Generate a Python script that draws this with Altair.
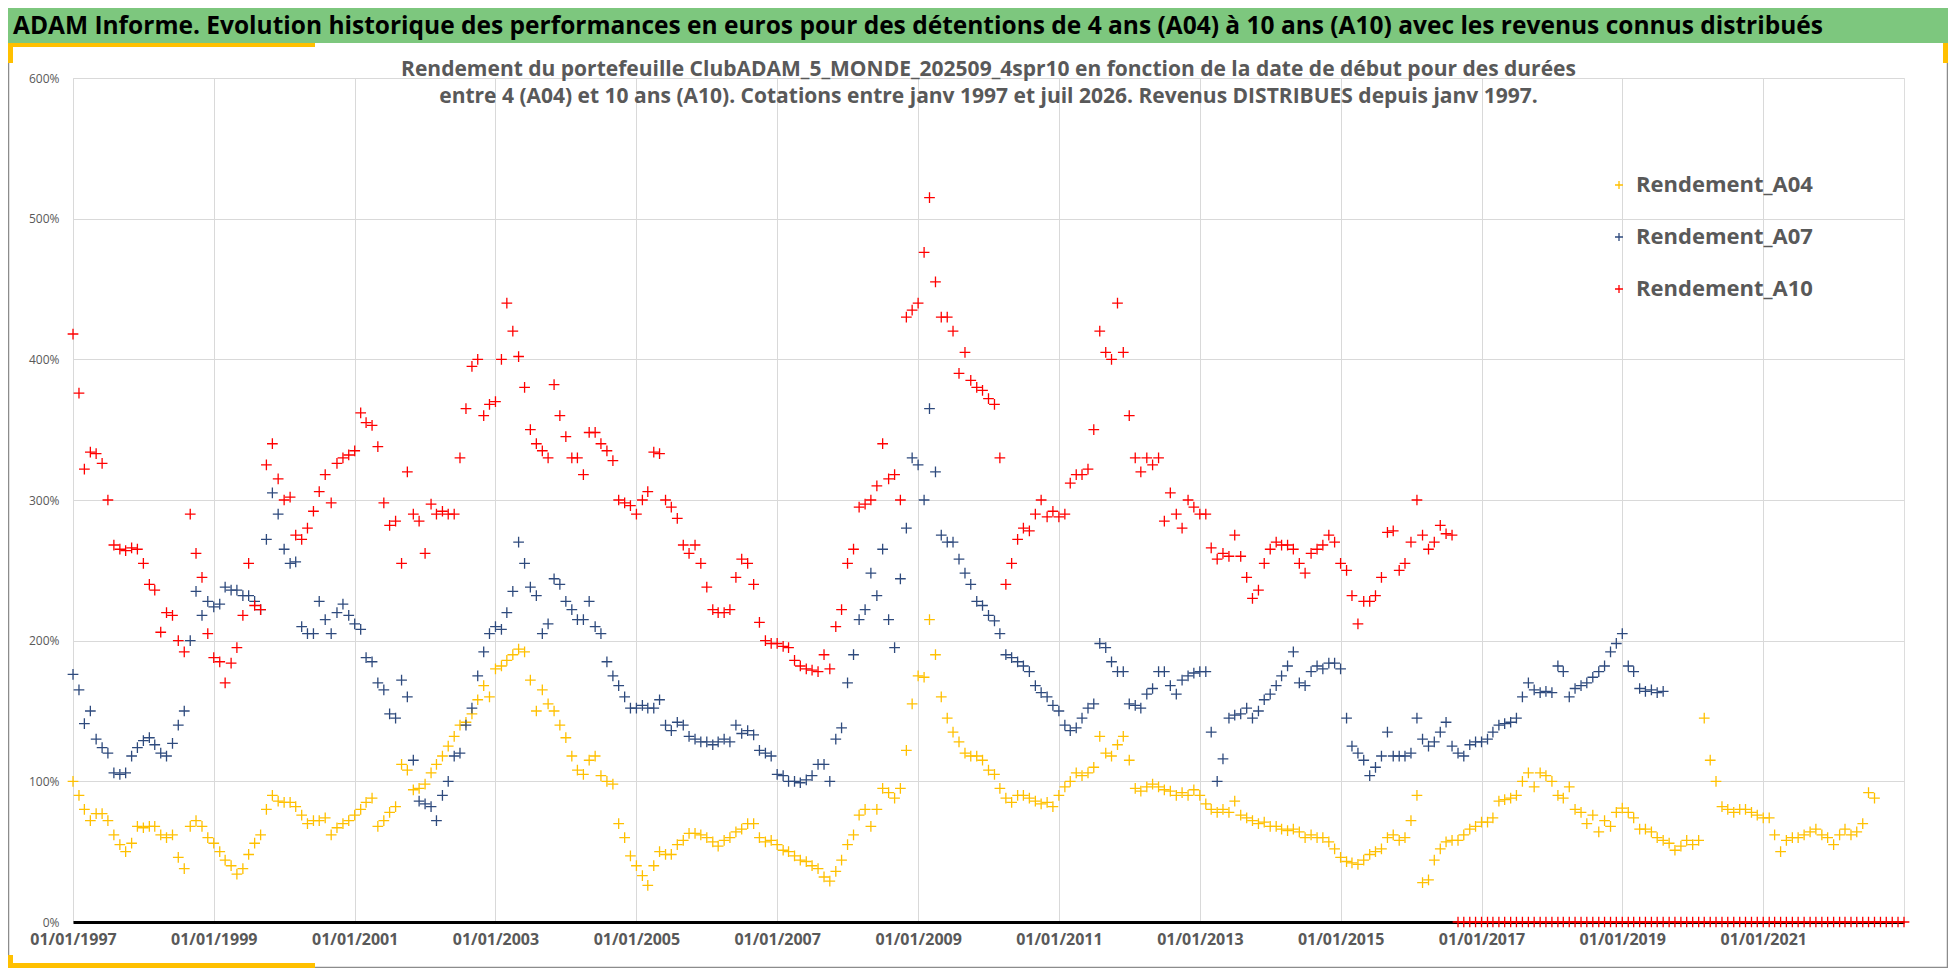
import pandas as pd
import altair as alt

# monthly readings (in %), starting January 1997
a04 = [
    100, 90, 80, 72, 77, 77, 72, 62, 55, 50, 56, 68,      # 1997
    67, 68, 68, 62, 60, 62, 46, 38, 68, 72, 68, 60,       # 1998
    56, 50, 44, 40, 34, 38, 48, 56, 62, 80, 90, 86,       # 1999
    85, 85, 82, 76, 70, 72, 72, 74, 62, 67, 70, 72,       # 2000
    76, 80, 85, 88, 68, 72, 78, 82, 112, 108, 94, 95,     # 2001
    98, 106, 112, 118, 125, 132, 140, 142, 148, 158, 168, 160,  # 2002
    180, 182, 186, 190, 194, 192, 172, 150, 165, 155, 150, 140,  # 2003
    131, 118, 108, 105, 115, 118, 104, 100, 98, 70, 60, 47,     # 2004
    40, 33, 26, 40, 50, 48, 48, 55, 58, 63, 63, 62,       # 2005
    60, 57, 54, 58, 60, 64, 66, 70, 70, 60, 57, 58,       # 2006
    55, 51, 50, 47, 44, 43, 40, 38, 32, 29, 36, 44,       # 2007
    55, 62, 76, 80, 68, 80, 95, 92, 88, 95, 122, 155,     # 2008
    175, 174, 215, 190, 160, 145, 135, 128, 120, 118, 118, 115,  # 2009
    108, 105, 95, 88, 85, 90, 90, 88, 86, 84, 85, 82,     # 2010
    90, 96, 100, 106, 104, 106, 110, 132, 120, 118, 126, 132,   # 2011
    115, 95, 93, 96, 98, 96, 94, 93, 90, 92, 90, 94,      # 2012
    90, 84, 80, 78, 80, 78, 86, 76, 74, 72, 70, 71,       # 2013
    68, 68, 66, 65, 66, 64, 60, 62, 60, 60, 57, 52,       # 2014
    46, 43, 42, 41, 44, 48, 50, 52, 60, 62, 58, 60,       # 2015
    72, 90, 28, 30, 44, 52, 57, 58, 58, 62, 66, 68,       # 2016
    71, 71, 74, 86, 87, 88, 90, 100, 106, 96, 106, 104,   # 2017
    100, 90, 88, 96, 80, 78, 70, 76, 64, 72, 68, 78,      # 2018
    81, 78, 74, 66, 66, 64, 60, 58, 56, 51, 54, 58,       # 2019
    55, 58, 145, 115, 100, 82, 80, 78, 80, 80, 78, 76,    # 2020
    74, 74, 62, 50, 58, 60, 60, 62, 64, 66, 62, 60,       # 2021
    55, 62, 66, 62, 64, 70, 92, 88,                       # 2022
]

a07 = [
    176, 165, 141, 150, 130, 124, 120, 106, 105, 106, 118, 124,  # 1997
    129, 131, 126, 120, 118, 127, 140, 150, 200, 235, 218, 228,  # 1998
    224, 226, 238, 236, 236, 232, 232, 228, 222, 272, 305, 290,  # 1999
    265, 255, 256, 210, 205, 205, 228, 215, 205, 220, 226, 218,  # 2000
    212, 208, 188, 185, 170, 165, 148, 145, 172, 160, 115, 86,   # 2001
    84, 82, 72, 90, 100, 118, 120, 140, 152, 175, 192, 205,      # 2002
    210, 208, 220, 235, 270, 255, 238, 232, 205, 212, 244, 240,  # 2003
    228, 222, 215, 215, 228, 210, 205, 185, 175, 168, 160, 152,  # 2004
    152, 154, 152, 152, 158, 140, 136, 142, 140, 132, 130, 128,  # 2005
    128, 126, 128, 130, 128, 140, 134, 136, 133, 122, 120, 118,  # 2006
    105, 104, 100, 100, 99, 101, 104, 112, 112, 100, 130, 138,   # 2007
    170, 190, 215, 222, 248, 232, 265, 215, 195, 244, 280, 330,  # 2008
    325, 300, 365, 320, 275, 270, 270, 258, 248, 240, 228, 225,  # 2009
    218, 214, 205, 190, 188, 185, 182, 178, 168, 163, 160, 154,  # 2010
    150, 140, 136, 138, 145, 152, 155, 198, 195, 185, 178, 178,  # 2011
    155, 154, 152, 162, 166, 178, 178, 168, 162, 172, 175, 177,  # 2012
    178, 178, 135, 100, 116, 145, 147, 148, 152, 145, 150, 158,  # 2013
    162, 168, 175, 182, 192, 170, 168, 178, 182, 180, 184, 184,  # 2014
    180, 145, 125, 120, 115, 104, 110, 118, 135, 118, 118, 118,  # 2015
    120, 145, 130, 125, 128, 135, 142, 125, 120, 118, 126, 128,  # 2016
    128, 130, 135, 140, 141, 142, 145, 160, 170, 165, 163, 164,  # 2017
    163, 182, 178, 160, 166, 168, 170, 174, 178, 182, 192, 198,  # 2018
    205, 182, 178, 166, 164, 165, 163, 164,                      # 2019
]

a10 = [
    418, 376, 322, 334, 333, 326, 300, 268, 265, 264, 266, 265,  # 1997
    255, 240, 236, 206, 220, 218, 200, 192, 290, 262, 245, 205,  # 1998
    188, 185, 170, 184, 195, 218, 255, 225, 222, 325, 340, 315,  # 1999
    300, 302, 275, 272, 280, 292, 306, 318, 298, 326, 330, 332,  # 2000
    335, 362, 355, 353, 338, 298, 282, 285, 255, 320, 290, 285,  # 2001
    262, 297, 290, 292, 290, 290, 330, 365, 395, 400, 360, 368,  # 2002
    370, 400, 440, 420, 402, 380, 350, 340, 335, 330, 382, 360,  # 2003
    345, 330, 330, 318, 348, 348, 340, 335, 328, 300, 298, 296,  # 2004
    290, 300, 306, 334, 333, 300, 295, 287, 268, 262, 268, 255,  # 2005
    238, 222, 220, 220, 222, 245, 258, 255, 240, 213, 200, 198,  # 2006
    198, 196, 195, 186, 182, 180, 179, 178, 190, 180, 210, 222,  # 2007
    255, 265, 295, 297, 300, 310, 340, 315, 318, 300, 430, 435,  # 2008
    440, 476, 515, 455, 430, 430, 420, 390, 405, 385, 380, 378,  # 2009
    372, 368, 330, 240, 255, 272, 280, 278, 290, 300, 288, 292,  # 2010
    288, 290, 312, 318, 318, 322, 350, 420, 405, 400, 440, 405,  # 2011
    360, 330, 320, 330, 325, 330, 285, 305, 290, 280, 300, 295,  # 2012
    290, 290, 266, 258, 262, 260, 275, 260, 245, 230, 236, 255,  # 2013
    265, 270, 268, 268, 265, 255, 248, 262, 265, 268, 275, 270,  # 2014
    255, 250, 232, 212, 228, 228, 232, 245, 277, 278, 250, 255,  # 2015
    270, 300, 275, 265, 270, 282, 276, 275, 0, 0, 0, 0,          # 2016
    0, 0, 0, 0, 0, 0, 0, 0, 0, 0, 0, 0,                          # 2017
    0, 0, 0, 0, 0, 0, 0, 0, 0, 0, 0, 0,                          # 2018
    0, 0, 0, 0, 0, 0, 0, 0, 0, 0, 0, 0,                          # 2019
    0, 0, 0, 0, 0, 0, 0, 0, 0, 0, 0, 0,                          # 2020
    0, 0, 0, 0, 0, 0, 0, 0, 0, 0, 0, 0,                          # 2021
    0, 0, 0, 0, 0, 0, 0, 0, 0, 0, 0, 0,                          # 2022
    0,                                                           # 2023
]

series_names = ["Rendement_A04", "Rendement_A07", "Rendement_A10"]
series_colors = ["#FFC000", "#2E4A7D", "#FF0000"]
tick_years = [1997, 1999, 2001, 2003, 2005, 2007, 2009, 2011, 2013, 2015, 2017, 2019, 2021]
y_ticks = [0, 100, 200, 300, 400, 500, 600]

titre = ("ADAM Informe. Evolution historique des performances en euros pour des détentions "
         "de 4 ans (A04) à 10 ans (A10) avec les revenus connus distribués")
sous_titre_1 = ("Rendement du portefeuille ClubADAM_5_MONDE_202509_4spr10  en fonction de la "
                "date de début pour des durées")
sous_titre_2 = ("entre 4 (A04) et 10 ans (A10). Cotations entre janv 1997 et juil 2026. "
                "Revenus DISTRIBUES depuis janv 1997.")

frames = []
for name, vals in zip(series_names, [a04, a07, a10]):
    frames.append(pd.DataFrame({
        "date": pd.date_range("1997-01-01", periods=len(vals), freq="MS"),
        "rendement": vals,
        "serie": name,
    }))
df = pd.concat(frames, ignore_index=True)

W, H = 1831, 844
FONT = "Open Sans"
GREY = "#595959"
PLUS = "M-1,0L1,0M0,-1L0,1"

points = alt.Chart(df).mark_point(
    shape=PLUS, filled=False, size=115, strokeWidth=1.3, opacity=1
).encode(
    x=alt.X("date:T", title=None,
            scale=alt.Scale(domain=[alt.DateTime(year=1997, month=1, date=1),
                                    alt.DateTime(year=2023, month=1, date=1)], nice=False),
            axis=alt.Axis(values=[alt.DateTime(year=y, month=1, date=1) for y in tick_years],
                          format="%d/%m/%Y", labelFontSize=16, labelFontWeight="bold",
                          labelColor=GREY, labelFont=FONT, labelPadding=9, ticks=False,
                          domainColor="black", domainWidth=3, gridColor="#D9D9D9",
                          labelFlush=False)),
    y=alt.Y("rendement:Q", title=None,
            scale=alt.Scale(domain=[0, 600], nice=False),
            axis=alt.Axis(values=y_ticks, labelExpr="datum.value + '%'", labelFontSize=12,
                          labelColor=GREY, labelFont=FONT, labelPadding=14, ticks=False,
                          domain=False, gridColor="#D9D9D9")),
    color=alt.Color("serie:N", scale=alt.Scale(domain=series_names, range=series_colors),
                    legend=alt.Legend(title=None, orient="none", legendX=1535, legendY=96,
                                      symbolType=PLUS, symbolSize=64, symbolStrokeWidth=1.3,
                                      labelFont=FONT, labelFontSize=22, labelFontWeight="bold",
                                      labelColor=GREY, labelOffset=6, rowPadding=30,
                                      labelLimit=0, padding=0)),
)

one = pd.DataFrame({"k": [0]})

def box(x, x2, y, y2, color):
    return alt.Chart(one).mark_rect(color=color).encode(
        x=alt.value(x), x2=alt.value(x2), y=alt.value(y), y2=alt.value(y2))

frame = alt.Chart(one).mark_rect(fill=None, stroke="#8C8C8C", strokeWidth=1.5).encode(
    x=alt.value(-64.5), x2=alt.value(W + 43.5), y=alt.value(-69.5), y2=alt.value(H + 45.5))

banner = box(-65, W + 44, -70, -35, "#7DC77E")
gold_top = box(-65, 242, -35, -31, "#FFC000")
gold_left = box(-65, -60, -35, -15, "#FFC000")
gold_right = box(W + 39, W + 44, -35, -15, "#FFC000")
gold_bottom = box(-65, 242, H + 41, H + 46, "#FFC000")
gold_corner = box(-65, -60, H + 33, H + 46, "#FFC000")

titre_txt = alt.Chart(one).mark_text(
    text=titre, align="left", baseline="middle", font=FONT, fontSize=24.5,
    fontWeight="bold", color="black"
).encode(x=alt.value(-60), y=alt.value(-51))

sous1 = alt.Chart(one).mark_text(
    text=sous_titre_1, align="center", baseline="middle", font=FONT, fontSize=21,
    fontWeight="bold", color=GREY
).encode(x=alt.value(W / 2), y=alt.value(-8))

sous2 = alt.Chart(one).mark_text(
    text=sous_titre_2, align="center", baseline="middle", font=FONT, fontSize=21,
    fontWeight="bold", color=GREY
).encode(x=alt.value(W / 2), y=alt.value(19))

chart = alt.layer(
    frame, banner, gold_top, gold_left, gold_right, gold_bottom, gold_corner,
    titre_txt, sous1, sous2, points
).properties(
    width=W, height=H,
    padding={"left": 65, "top": 70, "right": 44, "bottom": 46},
    autosize=alt.AutoSizeParams(type="none"),
).configure_view(stroke=None).configure(background="white")

chart.save("out.html", embed_options={"renderer": "svg", "actions": False})
